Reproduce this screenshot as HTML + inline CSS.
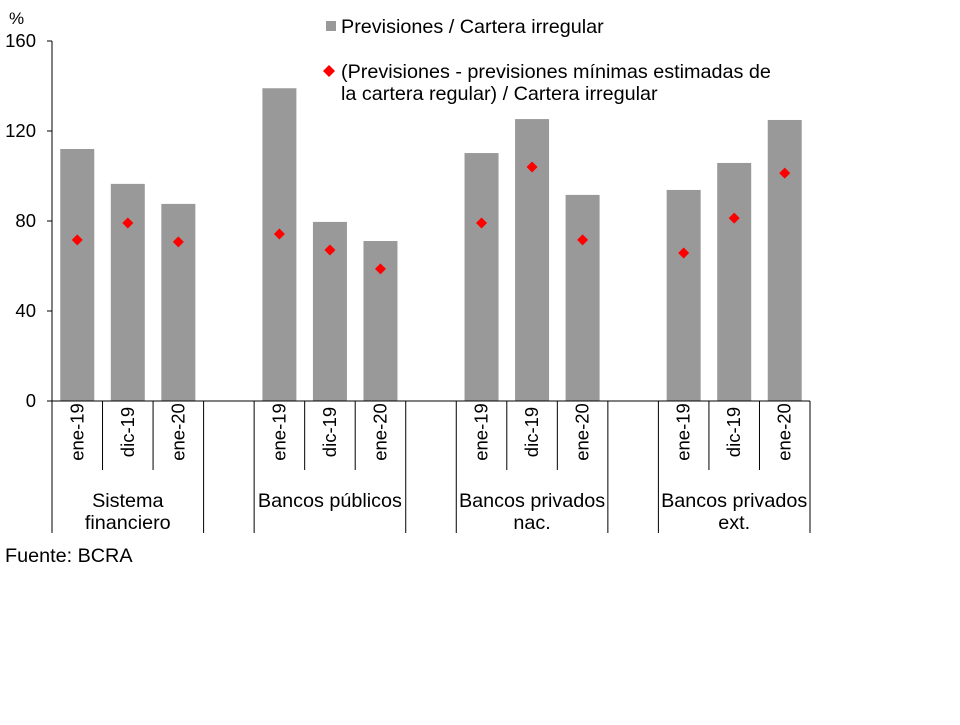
<!DOCTYPE html>
<html><head><meta charset="utf-8"><style>
body{margin:0;background:#fff;}
svg{font-family:"Liberation Sans",Arial,sans-serif;}
</style></head><body>
<svg id="chart" width="960" height="720" viewBox="0 0 960 720">
<text x="9" y="24" font-size="17">%</text>
<g id="yaxis"></g>
<g id="bars"></g>
<g id="points"></g>
<g id="xaxis"></g>
<g>
<rect x="326" y="21" width="10" height="10" fill="#999999"/>
<text x="341" y="33" font-size="19.8">Previsiones / Cartera irregular</text>
<path d="M329,65 L335,71 L329,77 L323,71 Z" fill="#ff0000"/>
<text x="341" y="78" font-size="19.8">(Previsiones - previsiones mínimas estimadas de</text>
<text x="341" y="100" font-size="19.8">la cartera regular) / Cartera irregular</text>
</g>
<text x="5" y="562" font-size="19.8">Fuente: BCRA</text>
</svg>
<script>
const groups = ["Sistema|financiero","Bancos públicos","Bancos privados|nac.","Bancos privados|ext."];
const periods = ["ene-19","dic-19","ene-20"];
const barValues = [112,96.5,87.6, 139,79.6,71.1, 110.2,125.3,91.6, 93.8,105.8,124.9];
const pointValues = [71.6,79.1,70.7, 74.2,67.1,58.7, 79.1,104,71.6, 65.8,81.3,101.3];
const yTicks = [0,40,80,120,160];

const NS="http://www.w3.org/2000/svg";
const x0=52,x1=810,y0=401,yTop=41,yMax=160;
const nSlots=15, step=(x1-x0)/nSlots;
function yScale(v){return y0-(v/yMax)*(y0-yTop);}
function slotOf(i){return Math.floor(i/3)*4+(i%3);}
function xCenter(i){return x0+step*(slotOf(i)+0.5);}
function mk(tag,attrs,parent){const e=document.createElementNS(NS,tag);for(const k in attrs)e.setAttribute(k,attrs[k]);parent.appendChild(e);return e;}

const ya=document.getElementById('yaxis');
const yl=mk('line',{x1:x0,y1:yTop,x2:x0,y2:y0,stroke:'#000','stroke-width':1},ya);


yTicks.forEach(t=>{
  const y=yScale(t);
  const tk=mk('line',{x1:x0-5,y1:y,x2:x0,y2:y,stroke:'#000'},ya);
  
  
  const tx=mk('text',{x:36,y:y+6,'font-size':18.5,'text-anchor':'end'},ya);
  tx.textContent=t;
  
  
});

const bg=document.getElementById('bars');
barValues.forEach((v,i)=>{
  const c=xCenter(i),w=34;
  const r=mk('rect',{x:c-w/2,y:yScale(v),width:w,height:y0-yScale(v),fill:'#999999'},bg);
  
  
});
const pg=document.getElementById('points');
pointValues.forEach((v,i)=>{
  const c=xCenter(i),y=yScale(v),s=5.5;
  const p=mk('path',{d:`M${c},${y-s} L${c+s},${y} L${c},${y+s} L${c-s},${y} Z`,fill:'#ff0000'},pg);
  
  
});

const xa=document.getElementById('xaxis');
const xl=mk('line',{x1:x0,y1:y0,x2:x1,y2:y0,stroke:'#000'},xa);


for(let s=0;s<=nSlots;s++){
  const x=x0+step*s;
  const inGroup=(s%4===1||s%4===2);
  const l=mk('line',{x1:x,y1:y0,x2:x,y2:inGroup?470:533,stroke:'#000'},xa);
  
  
}
barValues.forEach((v,i)=>{
  const c=xCenter(i);
  const t=mk('text',{x:0,y:0,'font-size':18.5,'text-anchor':'middle',transform:`translate(${c+6},${432}) rotate(-90)`},xa);
  t.textContent=periods[i%3];
  
  
});
groups.forEach((g,gi)=>{
  const cx=x0+step*(gi*4+1.5);
  const lines=g.split('|');
  lines.forEach((ln,k)=>{
    const t=mk('text',{x:cx,y:507+k*22,'font-size':19.8,'text-anchor':'middle'},xa);
    t.textContent=ln;
    
    
  });
});
</script>
</body></html>
